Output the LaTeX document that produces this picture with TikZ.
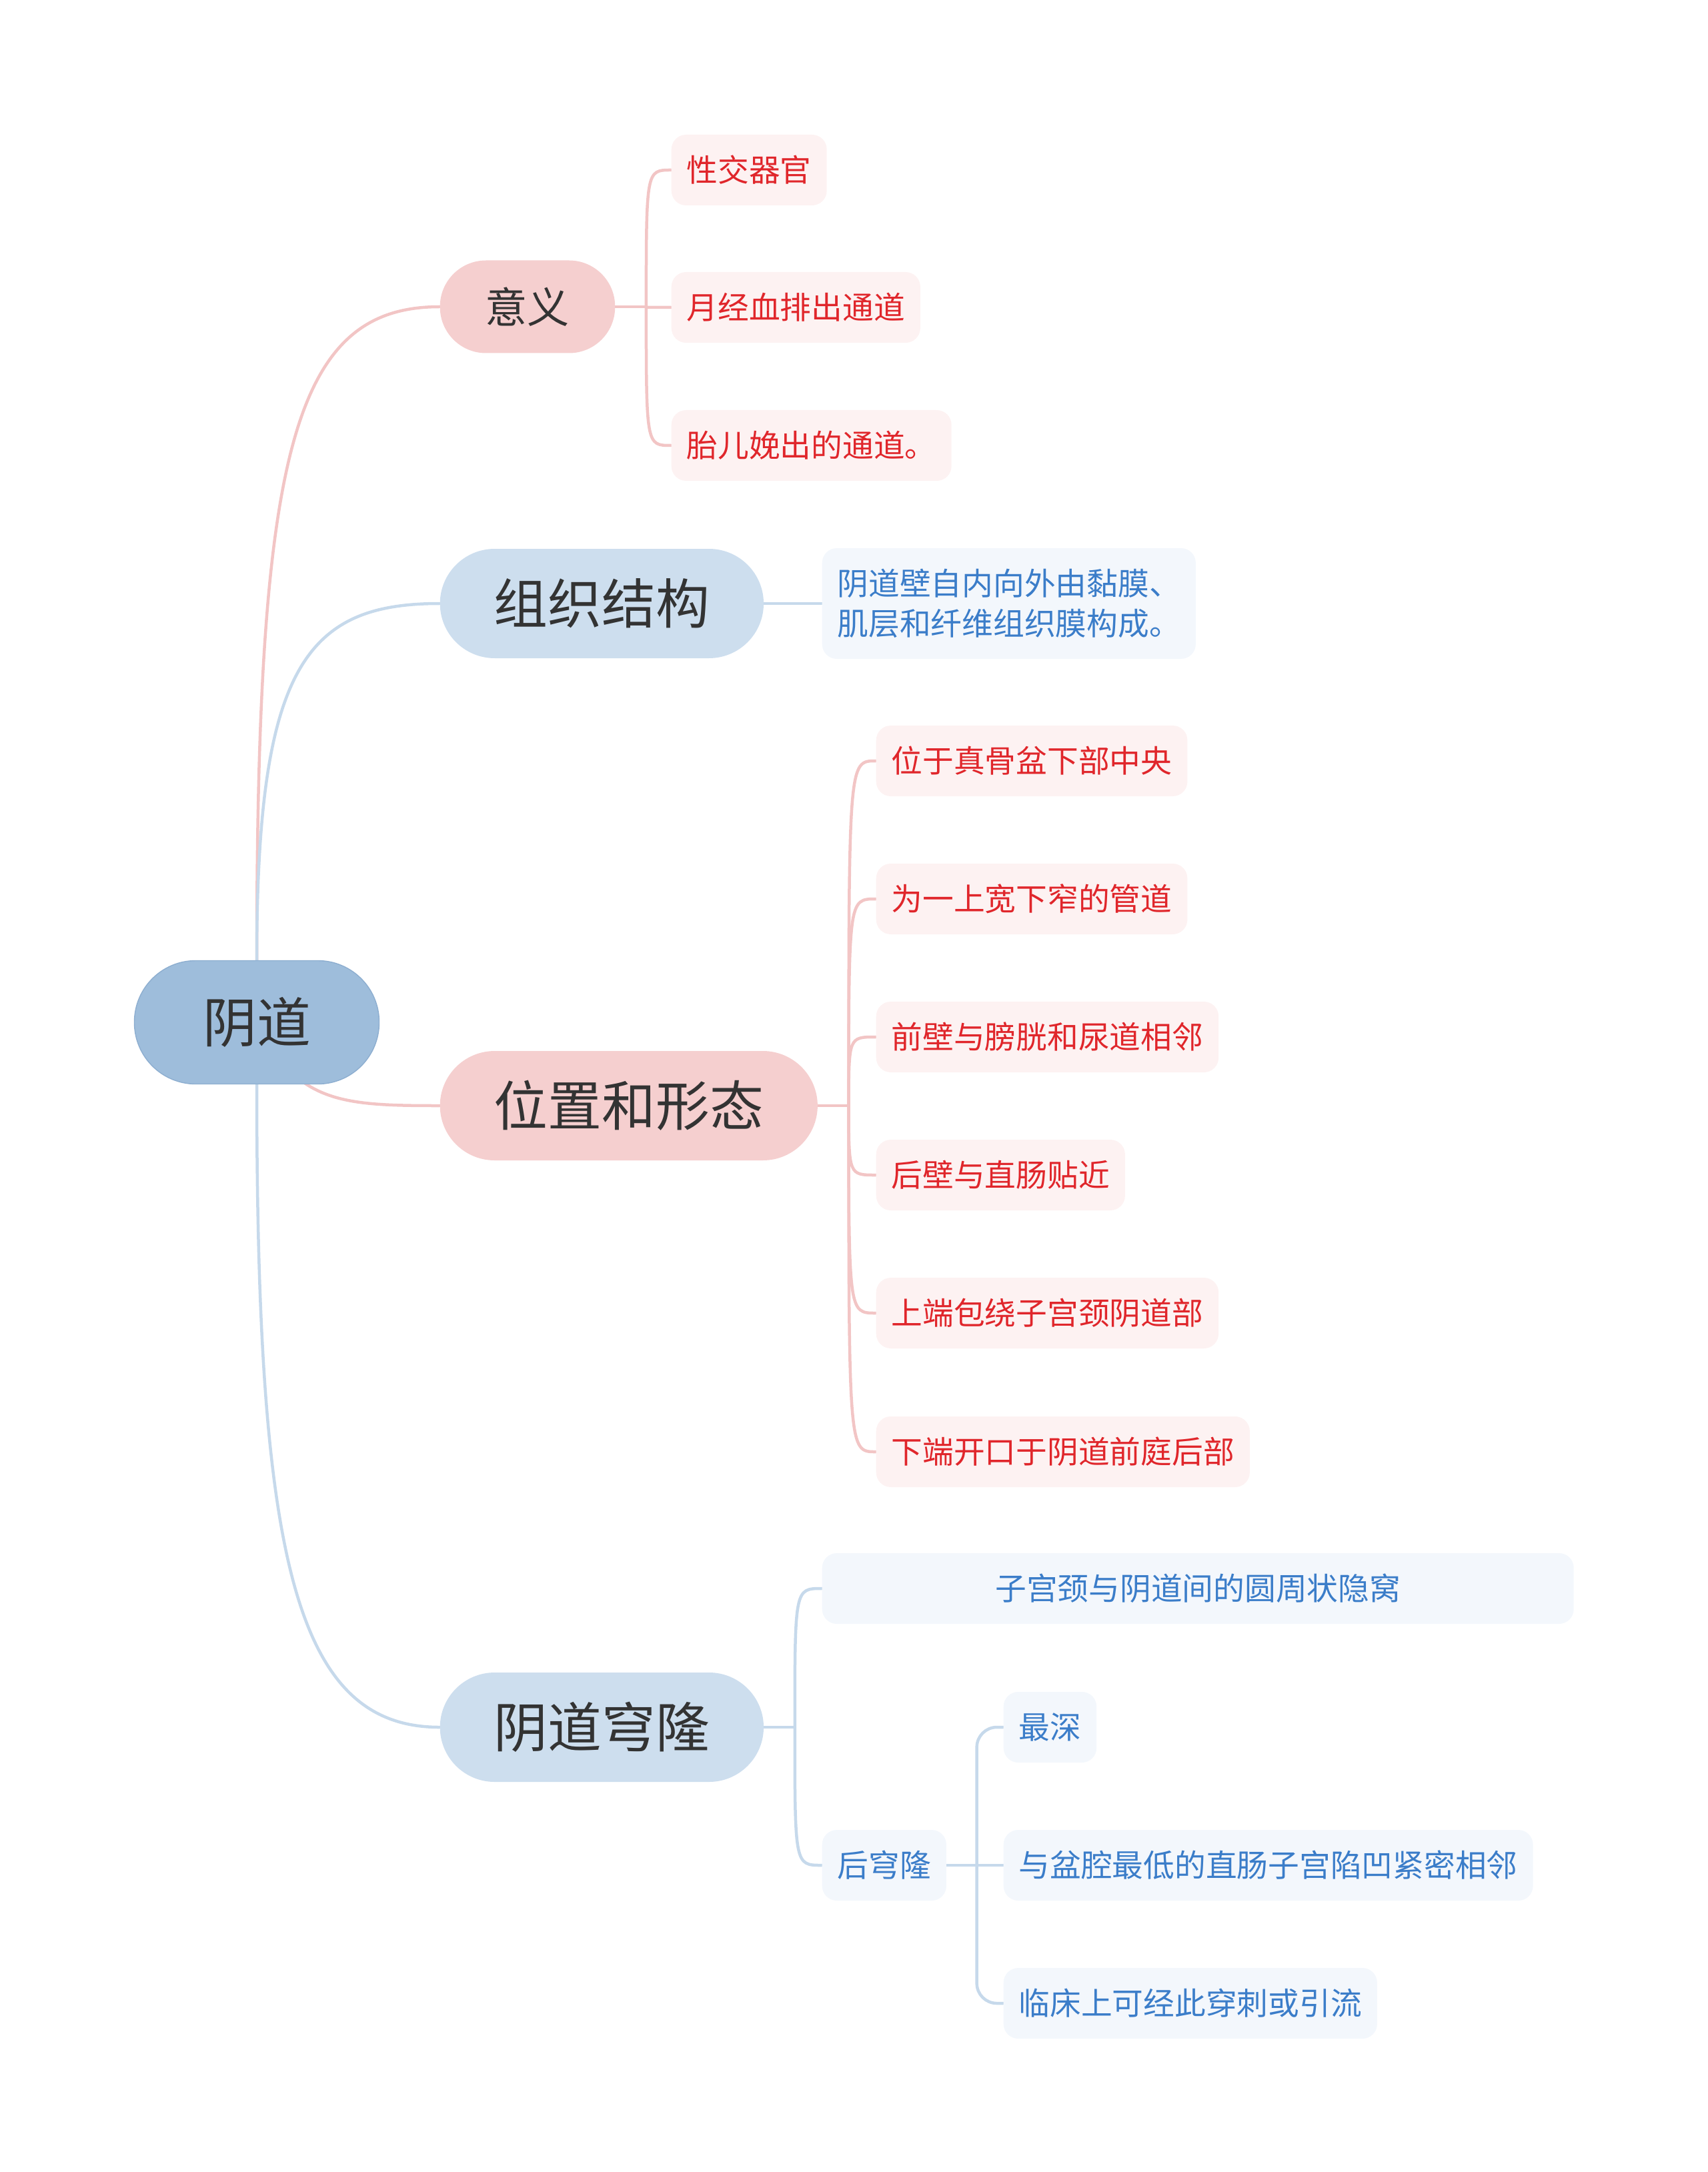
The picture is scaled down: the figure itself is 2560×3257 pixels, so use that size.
\documentclass[tikz,border=0pt]{standalone}
\usepackage{fontspec}
\setmainfont{Noto Sans CJK SC}
\usetikzlibrary{backgrounds}
\definecolor{rootblue}{HTML}{9EBDDB}
\definecolor{rootedge}{HTML}{8DAED0}
\definecolor{branchred}{HTML}{F5CFCF}
\definecolor{branchblue}{HTML}{CDDEEE}
\definecolor{leafred}{HTML}{FDF2F2}
\definecolor{leafblue}{HTML}{F3F7FC}
\definecolor{textred}{HTML}{E0262B}
\definecolor{textblue}{HTML}{3B7DC9}
\definecolor{linered}{HTML}{F2C5C5}
\definecolor{lineblue}{HTML}{C6D9EB}
\definecolor{darktext}{HTML}{333333}

\begin{document}
\begin{tikzpicture}[x=0.1mm, y=-0.1mm,
  rootbox/.style={fill=rootblue, draw=rootedge, line width=0.4pt, rounded corners=9.2mm,
    minimum width=36.7mm, minimum height=18.5mm, text=darktext, font=\fontsize{23}{28}\selectfont},
  branch/.style={anchor=west, rounded corners=8.2mm, minimum height=16.4mm, inner xsep=8.1mm,
    text=darktext, font=\fontsize{23}{28}\selectfont},
  leaf/.style={anchor=west, rounded corners=2.2mm, minimum height=10.6mm, inner xsep=2.3mm,
    font=\fontsize{13.3}{17}\selectfont},
  redleaf/.style={leaf, fill=leafred, text=textred},
  blueleaf/.style={leaf, fill=leafblue, text=textblue},
  link/.style={line width=0.45mm, line cap=round},
  redlink/.style={link, draw=linered},
  bluelink/.style={link, draw=lineblue},
]
\useasboundingbox (0,0) rectangle (2560,3257);

% Root and main branches
\node[rootbox] (root) at (385,1533) {阴道};
\node[branch, fill=branchred, rounded corners=6.9mm, minimum height=13.9mm, inner xsep=6.8mm,
  font=\fontsize{18}{22}\selectfont] (yiyi) at (659,460) {意义};
\node[branch, fill=branchblue] (zuzhi) at (659,905) {组织结构};
\node[branch, fill=branchred] (xingtai) at (659,1658) {位置和形态};
\node[branch, fill=branchblue] (qionglong) at (659,2590) {阴道穹隆};

% 意义
\node[redleaf] (xingjiao) at (1006,255) {性交器官};
\node[redleaf] (yuejing) at (1006,461) {月经血排出通道};
\node[redleaf] (taier) at (1006,668) {胎儿娩出的通道。};

% 组织结构
\node[blueleaf, align=left, minimum height=16.6mm] (guanbi) at (1232,905)
  {阴道壁自内向外由黏膜、\\肌层和纤维组织膜构成。};

% 位置和形态
\node[redleaf] (w1) at (1313,1141) {位于真骨盆下部中央};
\node[redleaf] (w2) at (1313,1348) {为一上宽下窄的管道};
\node[redleaf] (w3) at (1313,1555) {前壁与膀胱和尿道相邻};
\node[redleaf] (w4) at (1313,1762) {后壁与直肠贴近};
\node[redleaf] (w5) at (1313,1969) {上端包绕子宫颈阴道部};
\node[redleaf] (w6) at (1313,2177) {下端开口于阴道前庭后部};

% 阴道穹隆
\node[blueleaf, minimum width=112.7mm] (yinwo) at (1232,2382) {子宫颈与阴道间的圆周状隐窝};
\node[blueleaf] (houqiong) at (1232,2797) {后穹隆};
\node[blueleaf] (zuishen) at (1504,2590) {最深};
\node[blueleaf] (xianglin) at (1504,2797) {与盆腔最低的直肠子宫陷凹紧密相邻};
\node[blueleaf] (chuanci) at (1504,3004) {临床上可经此穿刺或引流};

% Connectors behind the nodes
\begin{scope}[on background layer]
\draw[redlink] (root.north) .. controls +(0,-760) and +(-220,0) .. (yiyi.west);
\draw[bluelink] (root.north) .. controls +(0,-440) and +(-200,0) .. (zuzhi.west);
\draw[redlink] (root.center) .. controls +(60,120) and +(-150,0) .. (xingtai.west);
\draw[bluelink] (root.south) .. controls +(0,700) and +(-220,0) .. (qionglong.west);

\draw[redlink] (yiyi.east) -- ++(46,0) coordinate (yj);
\foreach \n in {xingjiao,yuejing,taier}
  \draw[redlink] (yj) .. controls (yj |- \n.west) and (yj |- \n.west) .. (\n.west);

\draw[bluelink] (zuzhi.east) -- (guanbi.west);

\draw[redlink] (xingtai.east) -- ++(46,0) coordinate (xj);
\foreach \n in {w1,w2,w3,w4,w5,w6}
  \draw[redlink] (xj) .. controls (xj |- \n.west) and (xj |- \n.west) .. (\n.west);

\draw[bluelink] (qionglong.east) -- ++(46,0) coordinate (qj);
\foreach \n in {yinwo,houqiong}
  \draw[bluelink] (qj) .. controls (qj |- \n.west) and (qj |- \n.west) .. (\n.west);

\draw[bluelink] (houqiong.east) -- (xianglin.west);
\path (houqiong.east) ++(45,0) coordinate (hj);
\foreach \n in {zuishen,chuanci}
  \draw[bluelink, rounded corners=3mm] (hj) |- (\n.west);
\end{scope}
\end{tikzpicture}
\end{document}
